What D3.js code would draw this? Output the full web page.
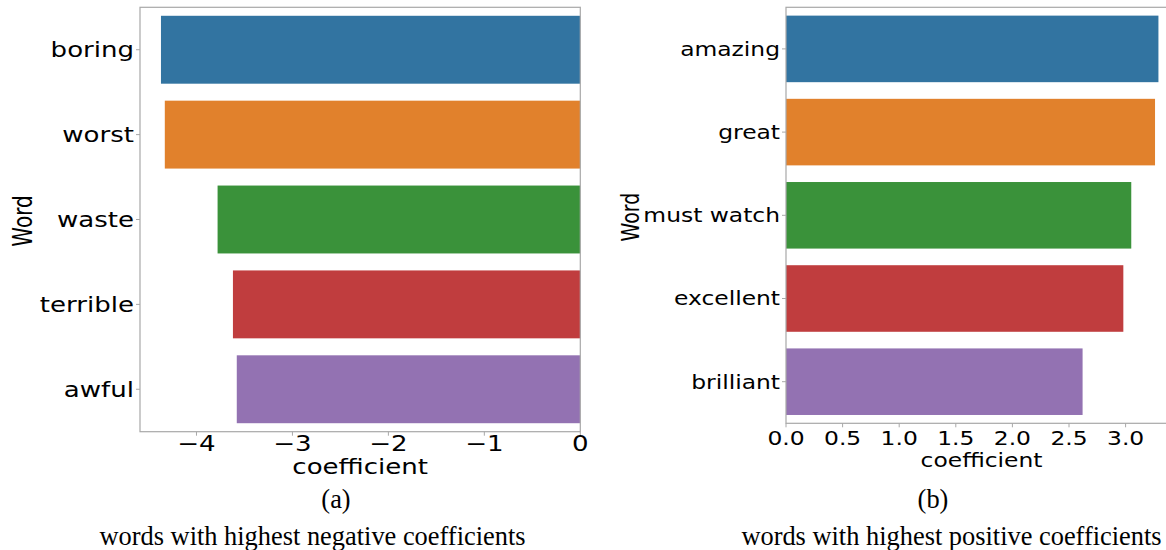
<!DOCTYPE html>
<html>
<head>
<meta charset="utf-8">
<script src="https://cdn.jsdelivr.net/npm/d3@7"></script>
<style>
  html, body { margin: 0; padding: 0; background: #fff; }
  svg { display: block; }
  .sans { font-family: "DejaVu Sans", sans-serif; fill: #000; }
  .serif { font-family: "Liberation Serif", "Times New Roman", serif; fill: #000; }
</style>
</head>
<body>
<svg id="fig" width="1166" height="550"></svg>
<script>
// Logistic-regression coefficients: strongest negative and positive words
const negWords = ["boring", "worst", "waste", "terrible", "awful"];
const negCoef  = [-4.37, -4.33, -3.78, -3.62, -3.58];
const negTicks = [-4, -3, -2, -1, 0];

const posWords = ["amazing", "great", "must watch", "excellent", "brilliant"];
const posCoef  = [3.29, 3.26, 3.05, 2.98, 2.62];
const posTicks = [0, 0.5, 1.0, 1.5, 2.0, 2.5, 3.0];

const palette = ["#3274a1", "#e1812c", "#3a923a", "#c03d3e", "#9372b2"];

const svg = d3.select("#fig");
const K = 1.2;              // horizontal stretch of the plot text
const KW = 1.3;             // stretch of the rotated "Word" title
const spine = "#a8a8a8";

function stretchedText(g, x, y, str, size, anchor, rotate) {
  const t = g.append("g")
    .attr("transform", `translate(${x},${y}) scale(${rotate ? KW : K},1)`)
    .append("text")
    .attr("class", "sans")
    .attr("font-size", size)
    .attr("text-anchor", anchor)
    .text(str);
  if (rotate) t.attr("transform", "rotate(-90)").attr("dy", "0.35em");
  return t;
}

function panel(opts) {
  const g = svg.append("g");
  const x = d3.scaleLinear().domain(opts.xDomain).range(opts.xRange);
  const y = d3.scaleBand().domain(opts.words).range(opts.yRange)
    .paddingInner(0.2).paddingOuter(0.1);

  // bars
  g.selectAll("rect.bar").data(opts.words).join("rect")
    .attr("class", "bar")
    .attr("x", (d, i) => Math.min(x(opts.values[i]), x(0)))
    .attr("width", (d, i) => Math.abs(x(opts.values[i]) - x(0)))
    .attr("y", d => y(d))
    .attr("height", y.bandwidth())
    .attr("fill", (d, i) => palette[i]);

  // frame
  const [x0, x1] = opts.xRange, [y0, y1] = opts.yRange;
  g.append("rect")
    .attr("x", x0).attr("y", y0)
    .attr("width", x1 - x0).attr("height", y1 - y0)
    .attr("fill", "none").attr("stroke", spine).attr("stroke-width", 1.2);

  // y ticks and labels
  opts.words.forEach(w => {
    const cy = y(w) + y.bandwidth() / 2;
    g.append("line").attr("x1", x0 - 4).attr("x2", x0).attr("y1", cy).attr("y2", cy)
      .attr("stroke", spine).attr("stroke-width", 1);
    stretchedText(g, x0 - 6, cy, w, opts.fs, "end").attr("dy", "0.35em");
  });

  // x ticks and labels
  opts.ticks.forEach(v => {
    const tx = x(v);
    g.append("line").attr("x1", tx).attr("x2", tx).attr("y1", y1).attr("y2", y1 + 4)
      .attr("stroke", spine).attr("stroke-width", 1);
    stretchedText(g, tx, opts.tickBase, opts.fmt(v), opts.fs, "middle");
  });

  // axis titles
  stretchedText(g, (x0 + x1) / 2, opts.titleBase, "coefficient", opts.fs, "middle");
  stretchedText(g, opts.wordX, opts.wordY, "Word", opts.wordFs, "middle", true);

  // sub-caption
  g.append("text").attr("class", "serif").attr("font-size", 26.4)
    .attr("x", opts.tagX).attr("y", 508).attr("text-anchor", "middle").text(opts.tag);
  g.append("text").attr("class", "serif").attr("font-size", 26.4)
    .attr("x", opts.capX).attr("y", 545).attr("text-anchor", "middle").text(opts.caption);
}

const minus = v => (v < 0 ? "\u2212" + Math.abs(v) : String(v));

panel({
  words: negWords, values: negCoef, ticks: negTicks,
  xDomain: [d3.min(negCoef) * 1.05, 0], xRange: [140, 580.3],
  yRange: [7.3, 431.7],
  fmt: minus, fs: 21.7, tickBase: 450.5, titleBase: 474,
  wordX: 23, wordY: 221, wordFs: 20,
  tag: "(a)", tagX: 336, capX: 312.5,
  caption: "words with highest negative coefficients"
});

panel({
  words: posWords, values: posCoef, ticks: posTicks,
  xDomain: [0, d3.max(posCoef) * 1.05], xRange: [786, 786 + d3.max(posCoef) * 1.05 * 113.2],
  yRange: [7.3, 423.3],
  fmt: d3.format(".1f"), fs: 19.5, tickBase: 444.5, titleBase: 466.5,
  wordX: 630, wordY: 217, wordFs: 19,
  tag: "(b)", tagX: 933, capX: 951.5,
  caption: "words with highest positive coefficients"
});
</script>
</body>
</html>
